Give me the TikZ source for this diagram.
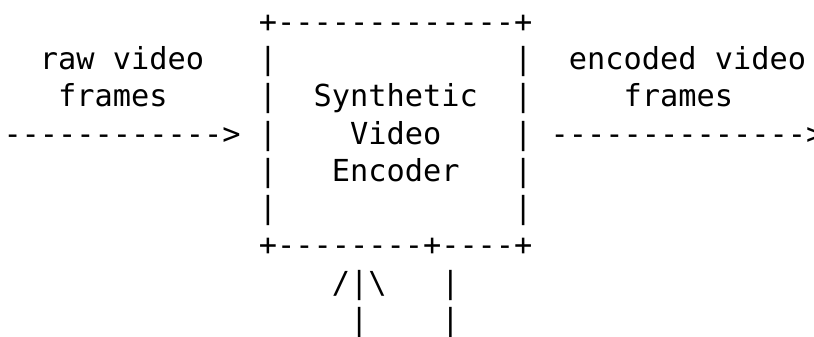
\documentclass[tikz,border=0pt]{standalone}
\usepackage{fontspec}
\newfontfamily\asciifont[Ligatures=TeXOff]{DejaVu Sans Mono}
\tikzset{
  ascii/.style={font=\asciifont\fontsize{30.3pt}{37.2pt}\selectfont,
    anchor=base west, inner sep=0pt, outer sep=0pt},
}
\begin{document}
\begin{tikzpicture}[x=18.24pt,y=-37.2pt]
\useasboundingbox (-3.5pt,32.6pt) rectangle (810.5pt,-304.4pt);
\clip (-3.5pt,32.6pt) rectangle (810.5pt,-304.4pt);
% encoder box
\node[ascii] (boxtop) at (14,0) {+-------------+};
\foreach \r in {1,...,5} {
  \node[ascii] (left\r) at (14,\r) {|};
  \node[ascii] (right\r) at (28,\r) {|};
}
\node[ascii] (boxbot) at (14,6) {+--------+----+};
\node[ascii] (name1) at (17,2) {Synthetic};
\node[ascii] (name2) at (19,3) {Video};
\node[ascii] (name3) at (18,4) {Encoder};
% input side
\node[ascii] (inlab1) at (2,1) {raw video};
\node[ascii] (inlab2) at (3,2) {frames};
\node[ascii] (inarrow) at (0,3) {------------>};
% output side
\node[ascii] (outlab1) at (31,1) {encoded video};
\node[ascii] (outlab2) at (34,2) {frames};
\node[ascii] (outarrow) at (30,3) {-------------->};
% lines under the box
\node[ascii] (uphead) at (18,7) {/|\textbackslash};
\node[ascii] (upstem) at (19,8) {|};
\foreach \r in {7,8}
  \node[ascii] (down\r) at (24,\r) {|};
\end{tikzpicture}
\end{document}
